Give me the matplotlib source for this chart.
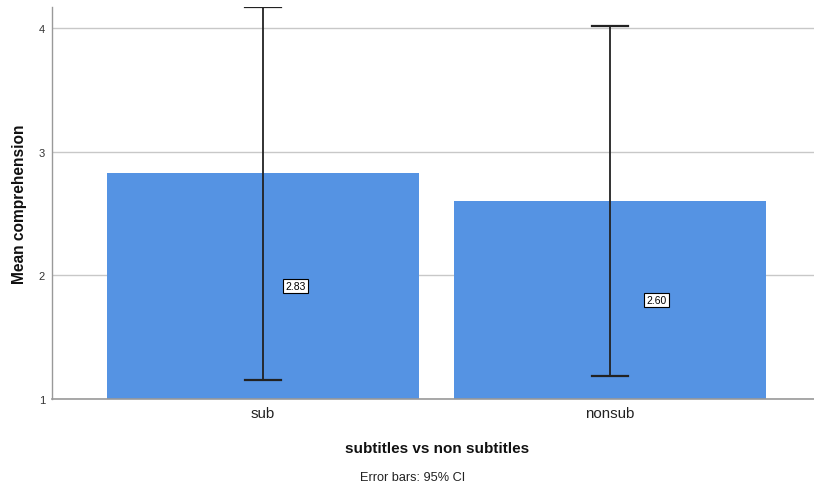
import numpy as np
import matplotlib
matplotlib.use("Agg")
import matplotlib.pyplot as plt

plt.rcParams['font.family'] = ['Liberation Sans', 'DejaVu Sans']

# Group means and 95% confidence intervals
groups = ["sub", "nonsub"]
means = [2.83, 2.60]
ci_low = [1.15, 1.185]
ci_high = [4.51, 4.015]
y_ticks = [1, 2, 3, 4]
y_top = 4.17

bar_color = "#5593e3"
grid_color = "#c8c8c8"

fig = plt.figure(figsize=(8.14, 4.85), dpi=100)
ax = fig.add_axes([52 / 814, 85 / 485, 1 - 52 / 814, (400 - 8) / 485])

x = np.arange(len(groups))
base = 1.0
ax.set_ylim(base, y_top)
ax.set_xlim(-0.608, 1.588)

ax.set_yticks(y_ticks)
ax.yaxis.grid(True, color=grid_color, linewidth=1.0)
ax.set_axisbelow(True)

ax.bar(x, np.array(means) - base, bottom=base, width=0.9, color=bar_color,
       edgecolor="none", zorder=2)

# Error bars are clipped to the visible axis range, caps drawn at the clip point
hi = np.minimum(ci_high, y_top - 0.003)
lo = np.maximum(ci_low, base)
cap = 0.053
for xi, l, h in zip(x, lo, hi):
    ax.plot([xi, xi], [l, h], color="#222222", lw=1.3, zorder=3, solid_capstyle="butt")
    ax.plot([xi - cap, xi + cap], [h, h], color="#222222", lw=1.6, zorder=3)
    ax.plot([xi - cap, xi + cap], [l, l], color="#222222", lw=1.6, zorder=3)

# Value labels at bar mid-height
label_dx = [0.095, 0.135]
for xi, m, dx in zip(x, means, label_dx):
    ax.text(xi + dx, (base + m) / 2, f"{m:.2f}", ha="center", va="center",
            fontsize=7.5, zorder=4,
            bbox=dict(boxstyle="square,pad=0.22", fc="white", ec="black", lw=0.8))

ax.set_xticks(x)
ax.set_xticklabels(groups, fontsize=10.8, color="#222222")
ax.tick_params(axis="x", length=0, pad=5)
ax.tick_params(axis="y", length=0, pad=5, labelsize=8, labelcolor="#333333")

for s in ["top", "right"]:
    ax.spines[s].set_visible(False)
ax.spines["left"].set_color("#999999")
ax.spines["bottom"].set_color("#999999")
ax.spines["left"].set_linewidth(1.0)
ax.spines["bottom"].set_linewidth(1.2)

fig.text(20 / 814, 1 - 204 / 485, "Mean comprehension", rotation=90, ha="center",
         va="center", fontsize=11.2, fontweight="bold", color="#111111")
fig.text(437 / 814, 1 - 449 / 485, "subtitles vs non subtitles", ha="center",
         va="center", fontsize=11, fontweight="bold", color="#111111")
fig.text(413 / 814, 1 - 478 / 485, "Error bars: 95% CI", ha="center",
         va="center", fontsize=9.2, color="#222222")

fig.savefig("out.png", dpi=100)
